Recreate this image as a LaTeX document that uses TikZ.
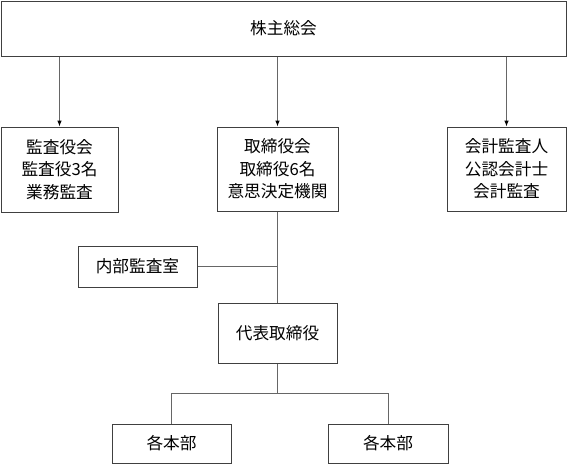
\documentclass[tikz,border=0pt]{standalone}
\usepackage{fontspec}
\newfontfamily\jpfont{Noto Sans CJK JP}
\usepackage{tikz}
\usetikzlibrary{arrows.meta,calc}

\tikzset{
  kbox/.style={draw=black!75, line width=0.75pt, fill=white, align=center, inner sep=0pt,
    font=\jpfont\fontsize{12.5}{17}\selectfont},
  kline/.style={draw=black!60, line width=0.75pt},
  karrow/.style={kline, -{Latex[length=4.5pt,width=3.5pt,color=black]}}
}

\begin{document}
\begin{tikzpicture}[x=0.75pt,y=-0.75pt]

\useasboundingbox (0,0) rectangle (572,471);

% top
\node[kbox, minimum width=565*0.75pt, minimum height=55*0.75pt] (soukai) at (283.5,28.5) {株主総会};

% second row
\node[kbox, minimum width=117*0.75pt, minimum height=85*0.75pt] (kansa) at (59.5,169.5) {監査役会\\監査役3名\\業務監査};
\node[kbox, minimum width=121*0.75pt, minimum height=84*0.75pt] (torishimari) at (277.5,169) {取締役会\\取締役6名\\意思決定機関};
\node[kbox, minimum width=119*0.75pt, minimum height=84*0.75pt] (kaikei) at (506.5,169) {会計監査人\\公認会計士\\会計監査};

% arrows from the top box
\foreach \n in {kansa,torishimari,kaikei} {
    \draw[karrow] (soukai.south -| \n.north) -- (\n.north);
}

% below the board
\node[kbox, minimum width=119*0.75pt, minimum height=41*0.75pt] (naibu) at (137.5,266.5) {内部監査室};
\node[kbox, minimum width=119*0.75pt, minimum height=60*0.75pt] (daihyo) at (277.5,333) {代表取締役};

\draw[kline] (torishimari.south) -- (daihyo.north);
\draw[kline] (naibu.east) -- (naibu.east -| daihyo.north);

% departments
\node[kbox, minimum width=119*0.75pt, minimum height=39*0.75pt] (honbuA) at (171.5,443.5) {各本部};
\node[kbox, minimum width=120*0.75pt, minimum height=39*0.75pt] (honbuB) at (388,443.5) {各本部};

\coordinate (bunki) at ($(daihyo.south)+(0,30)$);
\draw[kline] (daihyo.south) -- (bunki);
\draw[kline] (bunki) -| (honbuA.north);
\draw[kline] (bunki) -| (honbuB.north);

\end{tikzpicture}
\end{document}
